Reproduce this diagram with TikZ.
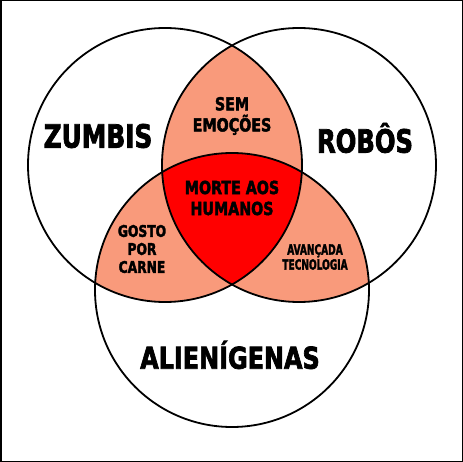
\documentclass[tikz,border=0pt]{standalone}
\usepackage{fontspec}
\newfontfamily\venncond{DejaVu Sans Condensed Bold}[FakeBold=2.5]
\usetikzlibrary{positioning}
\definecolor{ink}{HTML}{000000}
\definecolor{salmon}{HTML}{F99A7B}
\definecolor{blood}{HTML}{FF0000}
\tikzset{
  ring/.style={draw=ink, line width=1.8pt},
  setname/.style={font=\venncond\fontsize{32}{32}\selectfont, text=ink, inner sep=0pt, xscale=0.86},
  overlap/.style={font=\venncond\fontsize{18}{21}\selectfont, align=center, inner sep=0pt, xscale=0.88},
  overlapsm/.style={font=\venncond\fontsize{14}{15}\selectfont, align=center, inner sep=0pt, xscale=0.72},
}
\def\rad{137}

\begin{document}
\begin{tikzpicture}[x=1pt,y=-1pt]
\useasboundingbox (0,0) rectangle (463,462);
\coordinate (zc) at (165,165);
\coordinate (rc) at (299,165);
\coordinate (ac) at (232,290);

% paired overlaps
\begin{scope}
  \clip (zc) circle[radius=\rad];
  \fill[salmon] (rc) circle[radius=\rad];
  \fill[salmon] (ac) circle[radius=\rad];
\end{scope}
\begin{scope}
  \clip (rc) circle[radius=\rad];
  \fill[salmon] (ac) circle[radius=\rad];
\end{scope}
% all three
\begin{scope}
  \clip (zc) circle[radius=\rad];
  \clip (rc) circle[radius=\rad];
  \fill[blood] (ac) circle[radius=\rad];
\end{scope}

\foreach \c in {zc,rc,ac}
  \draw[ring] (\c) circle[radius=\rad];
\draw[ink, line width=1.5pt] (0.75,0.75) rectangle (462.25,461.25);

\node[setname] (zumbis) at (98,136) {ZUMBIS};
\node[setname, xscale=0.98] (robos) at (365,138) {ROBÔS};
\node[setname, font=\venncond\fontsize{30}{30}\selectfont, xscale=1.03] (aliens) at (230,355) {ALIENÍGENAS};

\node[overlap] (emo) at (232,116) {SEM\\EMOÇÕES};
\node[overlap] (morte) at (232,198) {MORTE AOS\\HUMANOS};
\node[overlap, font=\venncond\fontsize{16}{18}\selectfont, xscale=0.97] (gosto) at (142,249) {GOSTO\\POR\\CARNE};
\node[overlapsm] (tec) at (315,257) {AVANÇADA\\TECNOLOGIA};
\end{tikzpicture}
\end{document}
